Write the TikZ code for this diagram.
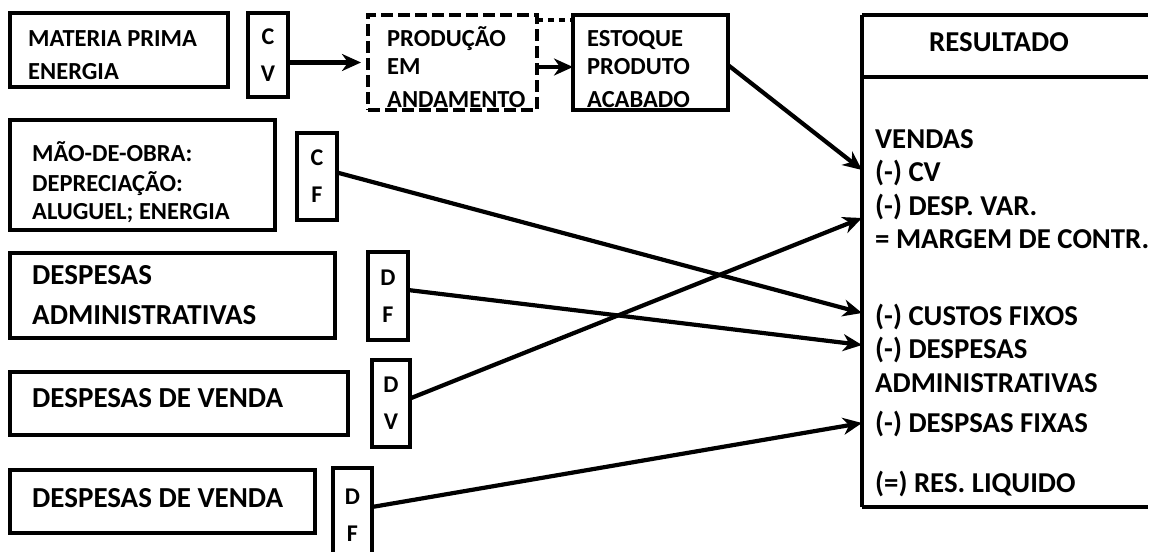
\documentclass[tikz,border=0pt]{standalone}
\usepackage{fontspec}
\setmainfont{Carlito}
\usetikzlibrary{arrows.meta}
\begin{document}
\begin{tikzpicture}[x=1bp,y=-1bp,
 box/.style={draw, line width=3.6bp, anchor=north west, inner sep=0bp, outer sep=0bp},
 lbox/.style={box, align=center, font=\bfseries\fontsize{24bp}{37bp}\selectfont},
 dbox/.style={box, dash pattern=on 12bp off 5bp},
 txt/.style={anchor=base west, inner sep=0bp},
 sm/.style={txt, font=\bfseries\fontsize{24.5bp}{29bp}\selectfont},
 bg/.style={txt, font=\bfseries\fontsize{29bp}{35bp}\selectfont},
 rs/.style={txt, font=\bfseries\fontsize{28.8bp}{33bp}\selectfont},
 conn/.style={line width=4.2bp, -{Stealth[length=19bp,width=17bp,inset=6bp]}},
]
\useasboundingbox (0,0) rectangle (1152,552);
\fill[white] (0,0) rectangle (1152,552);

% top row
\node[box, minimum width=218bp, minimum height=74bp] (mp) at (10,13) {};
\node[sm] at (28,47) {MATERIA PRIMA};
\node[sm] at (28,80) {ENERGIA};
\node[lbox, minimum width=40bp, minimum height=84bp] (cv) at (248,13) {C\\V};

\node[dbox, minimum width=169bp, minimum height=95bp] (prod) at (368,15) {};
\node[sm] at (387,47) {PRODUÇÃO};
\node[sm] at (387,75) {EM};
\node[sm] at (387,108) {ANDAMENTO};

\node[box, minimum width=155bp, minimum height=95bp] (est) at (573,15) {};
\node[sm] at (587,47) {ESTOQUE};
\node[sm] at (587,75) {PRODUTO};
\node[sm] at (587,108) {ACABADO};

% result box (open on the right)
\node[anchor=north west, inner sep=0bp, outer sep=0bp, minimum width=200bp, minimum height=492bp] (res) at (862,15) {};
\draw[line width=3.6bp] (res.north west) -- (res.south west);
\draw[line width=3.6bp] (res.north west) -- ++(286,0);
\draw[line width=3.6bp] (res.south west) -- ++(286,0);
\draw[line width=3.6bp] (res.north west) ++(0,62) -- ++(286,0);
\node[anchor=base, inner sep=0bp, font=\bfseries\fontsize{28.8bp}{33bp}\selectfont] (rt) at (999,52) {RESULTADO};
\node[rs] at (875,149) {VENDAS};
\node[rs] at (875,182) {(-) CV};
\node[rs] at (875,216) {(-) DESP. VAR.};
\node[rs] at (875,249) {= MARGEM DE CONTR.};
\node[rs] at (875,326) {(-) CUSTOS FIXOS};
\node[rs] at (875,359) {(-) DESPESAS};
\node[rs] at (875,392) {ADMINISTRATIVAS};
\node[rs] at (875,432) {(-) DESPSAS FIXAS};
\node[rs] at (875,492) {(=) RES. LIQUIDO};

\path (res.north west) ++(0,155) coordinate (r1);
\path (res.north west) ++(0,203) coordinate (r2);
\path (res.north west) ++(0,298) coordinate (r4);
\path (res.north west) ++(0,330) coordinate (r5);
\path (res.north west) ++(0,408) coordinate (r6);

% left column
\node[box, minimum width=265bp, minimum height=110bp] (mo) at (10,120) {};
\node[sm] at (32,162) {MÃO-DE-OBRA:};
\node[sm] at (32,192) {DEPRECIAÇÃO:};
\node[sm] at (32,220) {ALUGUEL; ENERGIA};
\node[lbox, minimum width=40bp, minimum height=87bp] (cf) at (297,133) {C\\F};

\node[box, minimum width=325bp, minimum height=85bp] (da) at (10,253) {};
\node[bg] at (32,285) {DESPESAS};
\node[bg] at (32,325) {ADMINISTRATIVAS};
\node[lbox, minimum width=40bp, minimum height=88bp] (df1) at (368,252) {D\\F};

\node[box, minimum width=338bp, minimum height=63bp] (dv1) at (10,372) {};
\node[bg] at (32,407) {DESPESAS DE VENDA};
\node[lbox, minimum width=38bp, minimum height=87bp] (dv) at (372,360) {D\\V};

\node[box, minimum width=305bp, minimum height=63bp] (dv2) at (10,470) {};
\node[bg] at (32,507) {DESPESAS DE VENDA};
\node[lbox, minimum width=39bp, minimum height=94bp] (df2) at (333,468) {D\\F};

% connectors
\draw[conn] (cv.east |- prod.west) -- ([xshift=-7bp]prod.west);
\draw[conn] ([yshift=-4.5bp]prod.east) -- ([yshift=-4.5bp]est.west);
\draw[line width=3.6bp, dash pattern=on 6bp off 5bp] ([yshift=-5bp]prod.north east) -- ([yshift=-5bp]est.north west);
\draw[conn] ([yshift=-50bp]est.north east) -- (r1);
\draw[conn] ([yshift=4bp]cf.east) -- (r4);
\draw[conn] ([yshift=6bp]df1.east) -- (r5);
\draw[conn] ([yshift=5bp]dv.east) -- (r2);
\draw[conn] ([yshift=8bp]df2.east) -- (r6);
\end{tikzpicture}
\end{document}
